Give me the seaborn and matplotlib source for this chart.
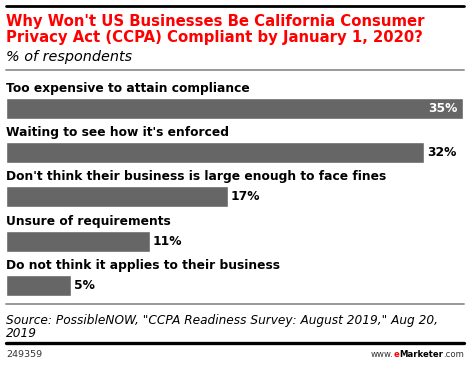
import matplotlib
matplotlib.use("Agg")
import matplotlib.pyplot as plt
import seaborn as sns
import pandas as pd
from matplotlib.lines import Line2D

categories = [
    "Too expensive to attain compliance",
    "Waiting to see how it's enforced",
    "Don't think their business is large enough to face fines",
    "Unsure of requirements",
    "Do not think it applies to their business",
]
values = [35, 32, 17, 11, 5]
value_labels = ["35%", "32%", "17%", "11%", "5%"]

title_lines = ["Why Won't US Businesses Be California Consumer",
               "Privacy Act (CCPA) Compliant by January 1, 2020?"]
subtitle = "% of respondents"
source_lines = ['Source: PossibleNOW, "CCPA Readiness Survey: August 2019," Aug 20,',
                "2019"]
chart_id = "249359"

sns.set_theme(style="white")
plt.rcParams["font.family"] = ["DejaVu Sans"]

W, H = 470, 365
fig = plt.figure(figsize=(W / 100, H / 100), dpi=100)
fig.patch.set_facecolor("white")

def fy(px):
    return 1 - px / H

def fx(px):
    return px / W

# axes area
top_px, bot_px = 80, 300
spacing = 44.2
c0 = 108.5
ax = fig.add_axes([fx(6), fy(bot_px), fx(463) - fx(6), (bot_px - top_px) / H])
df = pd.DataFrame({"cat": categories, "val": values})
bar_w = 21 / spacing
sns.barplot(data=df, x="val", y="cat", orient="h", color="#666666",
            saturation=1, width=bar_w, ax=ax)
ax.set_xlim(0, 35)
ax.set_ylim(4 + (bot_px - (c0 + 4 * spacing)) / spacing, -(c0 - top_px) / spacing)
ax.axis("off")

for i, (cat, v, lab) in enumerate(zip(categories, values, value_labels)):
    ax.text(0, i - bar_w / 2 - 6 / spacing, cat, fontsize=8.85, fontweight="bold",
            color="#000000", ha="left", va="baseline")
    if i == 0:
        ax.annotate(lab, (v, i), xytext=(-5, 0), textcoords="offset pixels",
                    ha="right", va="center", fontsize=8.8, fontweight="bold",
                    color="white")
    else:
        ax.annotate(lab, (v, i), xytext=(3, 0), textcoords="offset pixels",
                    ha="left", va="center", fontsize=8.8, fontweight="bold",
                    color="#000000")

# lines
def hline(ypx, color, lw):
    fig.add_artist(Line2D([fx(6), fx(464)], [fy(ypx), fy(ypx)], color=color,
                          linewidth=lw, transform=fig.transFigure))

hline(6, "#000000", 2.0)
hline(70, "#999999", 1.4)
hline(304, "#999999", 1.4)
hline(342.5, "#000000", 2.4)

# titles
fig.text(fx(6), fy(26), title_lines[0], color="#ff0000", fontsize=10.75,
         fontweight="bold", ha="left", va="baseline")
fig.text(fx(6), fy(42), title_lines[1], color="#ff0000", fontsize=10.75,
         fontweight="bold", ha="left", va="baseline")
fig.text(fx(6), fy(61.5), subtitle, color="#000000", fontsize=10.4,
         style="italic", ha="left", va="baseline")

fig.text(fx(6), fy(324), source_lines[0], color="#000000", fontsize=8.75,
         style="italic", ha="left", va="baseline")
fig.text(fx(6), fy(337), source_lines[1], color="#000000", fontsize=8.75,
         style="italic", ha="left", va="baseline")

fig.text(fx(6), fy(357), chart_id, color="#333333", fontsize=6.8,
         ha="left", va="baseline")

# www.eMarketer.com composed right-to-left
fig.canvas.draw()
renderer = fig.canvas.get_renderer()
pieces = [("www.", "normal", "#333333"), ("e", "bold", "#ff0000"),
          ("Marketer", "bold", "#000000"), (".com", "normal", "#333333")]
xr = 464
for txt, wt, col in reversed(pieces):
    t = fig.text(fx(xr), fy(357), txt, color=col, fontsize=6.1, fontweight=wt,
                 ha="right", va="baseline")
    bb = t.get_window_extent(renderer)
    xr -= bb.width

fig.savefig("out.png", dpi=100, facecolor="white")
